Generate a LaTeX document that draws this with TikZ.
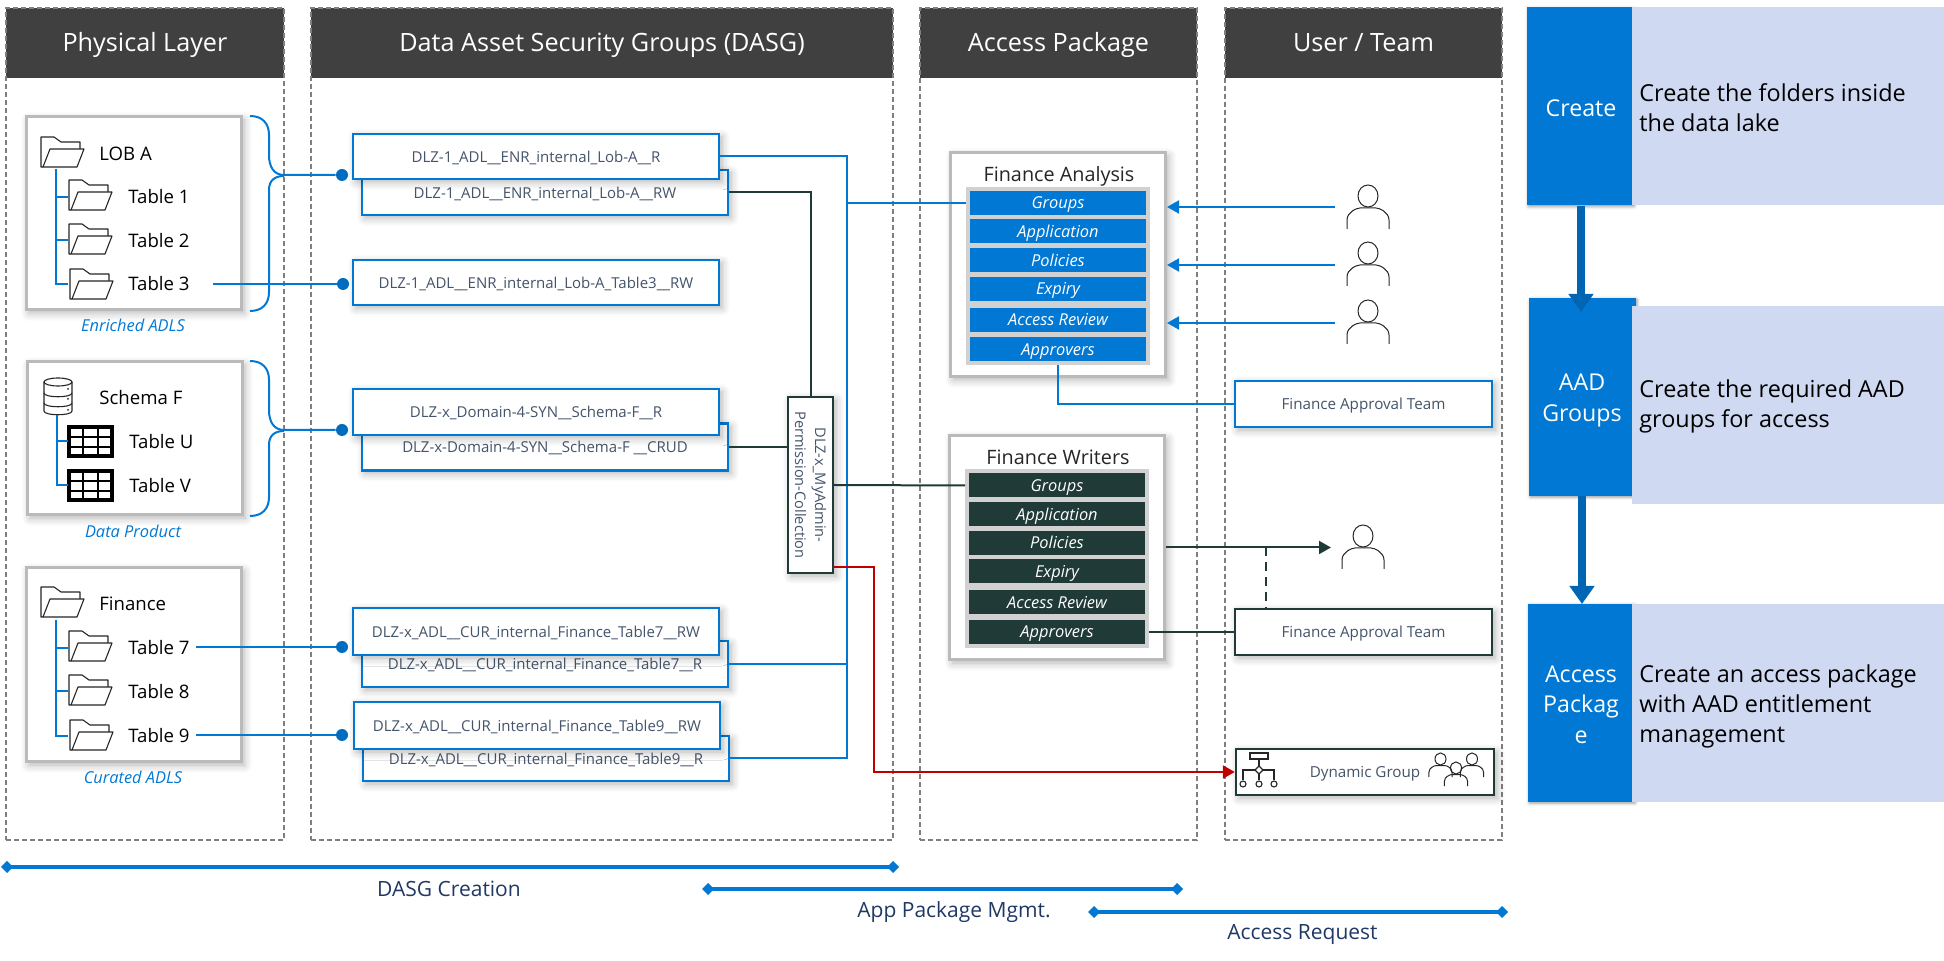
\documentclass[tikz,border=0pt]{standalone}
\usepackage{fontspec}
\setmainfont{Open Sans}
\usetikzlibrary{arrows.meta,shadows.blur}
\definecolor{azure}{HTML}{0078D4}
\definecolor{pine}{HTML}{203A37}
\definecolor{headgray}{HTML}{404040}
\definecolor{frameline}{HTML}{7F7F7F}
\definecolor{inkblue}{HTML}{44546A}
\definecolor{navytext}{HTML}{1F3864}
\definecolor{paleblue}{HTML}{CFD9F1}
\definecolor{redline}{HTML}{C00000}
\newcommand{\fs}[2]{\fontsize{#1pt}{#2pt}\selectfont}
\tikzset{
  softshadow/.style={blur shadow={shadow xshift=1.5pt,shadow yshift=-1.5pt,shadow blur radius=4pt,shadow opacity=30,shadow blur steps=6}},
  panelframe/.style={draw=frameline,dashed,line width=.7pt,dash pattern=on 2.6pt off 1.4pt,minimum height=416pt,minimum width=#1,inner sep=0pt},
  headcap/.style={fill=headgray,text=white,minimum height=35pt,minimum width=#1,inner sep=0pt,text height=9pt,text depth=0pt,font=\fs{12.6}{14}},
  whitecard/.style={fill=white,draw=black!27,line width=1.5pt,softshadow,inner sep=0pt,minimum width=#1},
  treetext/.style={anchor=west,inner sep=0pt,text=black,yshift=-.5pt,font=\fs{9.3}{11}},
  caption/.style={text=azure,inner sep=0pt,font=\fs{8.2}{10}\itshape},
  sgbox/.style={fill=white,draw=azure,line width=1.2pt,softshadow,minimum width=183pt,minimum height=#1,inner sep=0pt,text=inkblue,text height=6.5pt,text depth=.5pt,font=\fs{7.5}{9}},
  teambox/.style={fill=white,draw=#1,line width=1.2pt,softshadow,minimum width=128.5pt,minimum height=23pt,inner sep=0pt,text=inkblue,text height=6.5pt,text depth=.5pt,font=\fs{7.6}{9}},
  rowbox/.style={fill=#1,draw=black!18,line width=2pt,text=white,minimum width=90pt,minimum height=14pt,inner sep=0pt,text height=6pt,text depth=0pt,font=\fs{8.2}{10}\itshape},
  cardtitle/.style={inner sep=0pt,text=black!85,font=\fs{9.9}{12}},
  dotnode/.style={circle,fill=azure!90!black,minimum size=6pt,inner sep=0pt},
  blueln/.style={draw=azure,line width=1pt},
  pineln/.style={draw=pine,line width=1pt},
  spanln/.style={draw=azure,line width=1.6pt,{Diamond[width=6pt,length=6pt]}-{Diamond[width=6pt,length=6pt]}},
  spantext/.style={inner sep=0pt,text=navytext,font=\fs{10.5}{12}},
  stepbox/.style={fill=azure,minimum width=#1,minimum height=99pt,inner sep=0pt,blur shadow={shadow xshift=.6pt,shadow yshift=-.6pt,shadow blur radius=1.5pt,shadow opacity=40,shadow blur steps=3}},
  steplabel/.style={inner sep=0pt,text=white,align=center,font=\fs{11.6}{15.2}},
  stepnote/.style={fill=paleblue,minimum width=156pt,minimum height=99pt,inner sep=0pt},
  steptext/.style={anchor=west,inner sep=0pt,text=black,align=left,font=\fs{11.7}{15}},
  steparrow/.style={draw=azure!85!black,line width=3.6pt,-{Triangle[width=12pt,length=9pt]}},
  folder/.pic={
    \draw[black!85,line width=.55pt,line join=round,fill=white] (2,30) -- (0,30) -- (0,0) -- (13,0) -- (20,5) -- (39,5) -- (39,12);
    \draw[black!85,line width=.55pt,line join=round,fill=white] (2,30) -- (9,12) -- (43,12) -- (36,30) -- cycle;
  },
  gridicon/.pic={
    \draw[black,line width=1pt] (0,10) -- (43,10) (0,20) -- (43,20) (14,0) -- (14,29) (29,0) -- (29,29);
    \draw[black,line width=2pt] (0,0) rectangle (43,29);
  },
  dbicon/.pic={
    \draw[black!85,line width=.55pt] (-14,4) -- (-14,33) .. controls (-14,38) and (14,38) .. (14,33) -- (14,4);
    \draw[black!85,line width=.55pt] (0,4) ellipse (14 and 4);
    \draw[black!85,line width=.55pt] (-14,15) .. controls (-14,20) and (14,20) .. (14,15);
    \draw[black!85,line width=.55pt] (-14,25) .. controls (-14,30) and (14,30) .. (14,25);
    \fill[black!85] (10,11) circle (1) (10,21) circle (1) (10,32) circle (1);
  },
  personicon/.pic={
    \draw[black!85,line width=.5pt] (0,0) ellipse (10 and 11);
    \draw[black!85,line width=.5pt] (-21,33) -- (-21,24) .. controls (-21,16) and (-11,12) .. (-8,12) -- (8,12) .. controls (11,12) and (21,16) .. (21,24) -- (21,33);
  },
}
\begin{document}
\begin{tikzpicture}[x=0.5pt,y=-0.5pt]
\useasboundingbox (0,0) rectangle (1944,961);
\node[headcap=139pt] (physicalHead) at (145,43) {Physical Layer};
\node[headcap=291pt] (dasgHead) at (602,43) {Data Asset Security Groups (DASG)};
\node[headcap=138.5pt] (packageHead) at (1058.5,43) {Access Package};
\node[headcap=138.5pt] (userHead) at (1363.5,43) {User / Team};
\node[panelframe=139pt] (physicalFrame) at (145,424) {};
\node[panelframe=291pt] (dasgFrame) at (602,424) {};
\node[panelframe=138.5pt] (packageFrame) at (1058.5,424) {};
\node[panelframe=138.5pt] (userFrame) at (1363.5,424) {};

\node[whitecard=107.5pt,minimum height=96.5pt] (lobCard) at (133.5,213.5) {};
\node[whitecard=107.5pt,minimum height=76.5pt] (schemaCard) at (134.5,438.5) {};
\node[whitecard=107.5pt,minimum height=97pt] (financeCard) at (133.5,665) {};
\pic at (41,137) {folder};
\pic at (69,180) {folder};
\pic at (69,224) {folder};
\pic at (70,269) {folder};
\node[treetext] (lobText) at (99,153) {LOB A};
\node[treetext] (tableOne) at (128,196) {Table 1};
\node[treetext] (tableTwo) at (128,240) {Table 2};
\node[treetext] (tableThree) at (128,283) {Table 3};
\node[caption] (enrichedText) at (133,325) {Enriched ADLS};
\coordinate (lobRoot) at (56,169);
\coordinate (branchOne) at (68,197);
\coordinate (branchTwo) at (68,240);
\coordinate (branchThree) at (68,284);
\draw[blueln] (lobRoot) |- (branchThree) (lobRoot |- branchOne) -- (branchOne) (lobRoot |- branchTwo) -- (branchTwo);
\pic at (58,378) {dbicon};
\pic at (69,427) {gridicon};
\pic at (69,471) {gridicon};
\node[treetext] (schemaText) at (99,397) {Schema F};
\node[treetext] (tableU) at (129,441) {Table U};
\node[treetext] (tableV) at (129,485) {Table V};
\node[caption] (productText) at (133,531) {Data Product};
\coordinate (schemaRoot) at (57,415);
\coordinate (branchU) at (68,441);
\coordinate (branchV) at (68,485);
\draw[blueln] (schemaRoot) |- (branchV) (schemaRoot |- branchU) -- (branchU);
\pic at (41,587) {folder};
\pic at (69,631) {folder};
\pic at (69,675) {folder};
\pic at (70,720) {folder};
\node[treetext] (financeText) at (99,603) {Finance};
\node[treetext] (tableSeven) at (128,647) {Table 7};
\node[treetext] (tableEight) at (128,691) {Table 8};
\node[treetext] (tableNine) at (128,735) {Table 9};
\node[caption] (curatedText) at (133,777) {Curated ADLS};
\coordinate (financeRoot) at (56,620);
\coordinate (branchSeven) at (68,648);
\coordinate (branchEight) at (68,691);
\coordinate (branchNine) at (68,736);
\draw[blueln] (financeRoot) |- (branchNine) (financeRoot |- branchSeven) -- (branchSeven) (financeRoot |- branchEight) -- (branchEight);

\node[sgbox=22.5pt] (lobRW) at (545,192.5) {DLZ-1\_ADL\_\_ENR\_internal\_Lob-A\_\_RW};
\node[sgbox=22.5pt] (lobR) at (536,156.5) {DLZ-1\_ADL\_\_ENR\_internal\_Lob-A\_\_R};
\node[sgbox=22.5pt] (lobTable) at (536,282.5) {DLZ-1\_ADL\_\_ENR\_internal\_Lob-A\_Table3\_\_RW};
\node[sgbox=23.5pt] (schemaCRUD) at (545,447) {DLZ-x-Domain-4-SYN\_\_Schema-F \_\_CRUD};
\node[sgbox=23pt] (schemaR) at (536,412) {DLZ-x\_Domain-4-SYN\_\_Schema-F\_\_R};
\node[sgbox=23pt] (sevenR) at (545,664) {DLZ-x\_ADL\_\_CUR\_internal\_Finance\_Table7\_\_R};
\node[sgbox=23.5pt] (sevenRW) at (536,631.5) {DLZ-x\_ADL\_\_CUR\_internal\_Finance\_Table7\_\_RW};
\node[sgbox=22.5pt] (nineR) at (546,758.5) {DLZ-x\_ADL\_\_CUR\_internal\_Finance\_Table9\_\_R};
\node[sgbox=23.5pt] (nineRW) at (537,725.5) {DLZ-x\_ADL\_\_CUR\_internal\_Finance\_Table9\_\_RW};

\node[dotnode] (dotLob) at (342,175) {};
\node[dotnode] (dotTable) at (343,284) {};
\node[dotnode] (dotSchema) at (342,430) {};
\node[dotnode] (dotSeven) at (342,647) {};
\node[dotnode] (dotNine) at (342,735) {};
\coordinate (tapThree) at (213,284);
\coordinate (tapSeven) at (196,647);
\coordinate (tapNine) at (196,735);
\draw[blueln] (250,116) .. controls (262,116) and (269,123) .. (269,135) -- (269,155) .. controls (269,167) and (274,175) .. (284,175) -- (dotLob);
\draw[blueln] (250,311) .. controls (262,311) and (269,304) .. (269,292) -- (269,190) .. controls (269,181) and (274,176) .. (284,176);
\draw[blueln] (250,361) .. controls (262,361) and (269,368) .. (269,380) -- (269,410) .. controls (269,422) and (274,430) .. (284,430) -- (dotSchema);
\draw[blueln] (250,516) .. controls (262,516) and (269,509) .. (269,497) -- (269,445) .. controls (269,436) and (274,431) .. (284,431);
\draw[blueln] (tapThree) -- (dotTable);
\draw[blueln] (tapSeven) -- (dotSeven);
\draw[blueln] (tapNine) -- (dotNine);

\node[whitecard=107.5pt,minimum height=112pt] (analysisCard) at (1058,265) {};
\node[cardtitle] (analysisTitle) at (1059,176) {Finance Analysis};
\node[rowbox=azure] (faGroups) at (1058,203) {Groups};
\node[rowbox=azure] (faApplication) at (1058,231.5) {Application};
\node[rowbox=azure] (faPolicies) at (1058,260.5) {Policies};
\node[rowbox=azure] (faExpiry) at (1058,289) {Expiry};
\node[rowbox=azure] (faReview) at (1058,320) {Access Review};
\node[rowbox=azure] (faApprovers) at (1058,349.5) {Approvers};
\node[whitecard=107.5pt,minimum height=112pt] (writersCard) at (1057,548) {};
\node[cardtitle] (writersTitle) at (1058,457) {Finance Writers};
\node[rowbox=pine] (fwGroups) at (1057,485.5) {Groups};
\node[rowbox=pine] (fwApplication) at (1057,514.5) {Application};
\node[rowbox=pine] (fwPolicies) at (1057,543) {Policies};
\node[rowbox=pine] (fwExpiry) at (1057,571.5) {Expiry};
\node[rowbox=pine] (fwReview) at (1057,602.5) {Access Review};
\node[rowbox=pine] (fwApprovers) at (1057,632) {Approvers};

\node[fill=white,draw=pine,line width=1.2pt,softshadow,minimum width=22.5pt,minimum height=88pt,inner sep=0pt] (permBox) at (810.5,485) {};
\node[rotate=-90,inner sep=0pt,align=center,text=inkblue,font=\fs{7.3}{10}] (permText) at (permBox) {DLZ-x\_MyAdmin-\\Permission-Collection};

\coordinate (busTop) at (847,156.5);
\coordinate (busMid) at (847,203);
\coordinate (busLow) at (847,758.5);
\draw[blueln] (lobR.east) -- (busTop) -- (busLow) -- (nineR.east);
\draw[blueln] (sevenR.east) -- (sevenR.east -| busTop);
\draw[blueln] (busMid) -- (faGroups.west);
\coordinate (pineTurn) at (810.5,192.5);
\draw[pineln] (lobRW.east) -- (pineTurn) -- (permBox.north);
\draw[pineln] (schemaCRUD.east) -- (schemaCRUD.east -| permBox.west);
\draw[pineln] (permBox.east) -- (fwGroups.west);
\coordinate (redStart) at (833,567);
\coordinate (redTurn) at (874,567);
\node[teambox=azure] (teamA) at (1363.5,404) {Finance Approval Team};
\node[teambox=pine] (teamB) at (1363.5,632) {Finance Approval Team};
\node[teambox=pine,minimum width=129pt] (dynBox) at (1365,772) {Dynamic Group};
\draw[draw=redline,line width=1pt,-{Triangle[width=6.5pt,length=6pt]}] (redStart) -- (redTurn) -- (redTurn |- dynBox.west) -- (dynBox.west);

\coordinate (userOne) at (1368,196);
\coordinate (userTwo) at (1368,253);
\coordinate (userThree) at (1368,311);
\coordinate (userFour) at (1363,536);
\pic at (userOne) {personicon};
\pic at (userTwo) {personicon};
\pic at (userThree) {personicon};
\pic at (userFour) {personicon};
\coordinate (askOne) at (1335,207);
\coordinate (askTwo) at (1335,265);
\coordinate (askThree) at (1335,323);
\draw[blueln,-{Triangle[width=6.5pt,length=6pt]}] (askOne) -- (askOne -| analysisCard.east);
\draw[blueln,-{Triangle[width=6.5pt,length=6pt]}] (askTwo) -- (askTwo -| analysisCard.east);
\draw[blueln,-{Triangle[width=6.5pt,length=6pt]}] (askThree) -- (askThree -| analysisCard.east);
\draw[blueln] (faApprovers.south) -- (faApprovers.south |- teamA.west) -- (teamA.west);
\draw[pineln] (fwApprovers.east) -- (teamB.west);
\coordinate (pickUser) at (1331,547.5);
\coordinate (dashTop) at (1266,547.5);
\draw[pineln,-{Triangle[width=6.5pt,length=6pt]}] (pickUser -| writersCard.east) -- (pickUser);
\draw[pineln,dashed,dash pattern=on 4.5pt off 3pt] (dashTop) -- (dashTop |- teamB.north);

\draw[black!85,line width=.55pt] (1250,753) rectangle (1268,759);
\draw[black!85,line width=.55pt] (1259,759) -- (1259,766) (1243,780) -- (1243,770) -- (1255,770) (1263,770) -- (1274,770) -- (1274,780) (1259,774) -- (1259,780);
\draw[black!85,line width=.55pt] (1259,766) -- (1263,770) -- (1259,774) -- (1255,770) -- cycle;
\draw[black!85,line width=.55pt] (1243,784) circle (3) (1259,784) circle (3) (1274,784) circle (3);
\pic[scale=.55] at (1440.5,759) {personicon};
\pic[scale=.55] at (1472,759) {personicon};
\pic[scale=.55] at (1456,768) {personicon};

\coordinate (spanA) at (1,867);
\coordinate (spanB) at (899,867);
\coordinate (spanC) at (702,889);
\coordinate (spanD) at (1183,889);
\coordinate (spanE) at (1088,912);
\coordinate (spanF) at (1508,912);
\draw[spanln] (spanA) -- (spanB);
\draw[spanln] (spanC) -- (spanD);
\draw[spanln] (spanE) -- (spanF);
\node[spantext] (dasgSpan) at (449,889) {DASG Creation};
\node[spantext] (appSpan) at (954,912) {App Package Mgmt.};
\node[spantext] (accessSpan) at (1302.5,934) {Access Request};

\node[stepbox=53pt] (createStep) at (1580,106.5) {};
\node[stepbox=53.5pt] (aadStep) at (1582.5,397) {};
\node[stepbox=53pt] (accessStep) at (1581,703) {};
\node[steplabel] (createLabel) at (1581,108) {Create};
\node[steplabel] (aadLabel) at (1582,400.5) {AAD\\Groups};
\node[steplabel] (accessLabel) at (1581,704.5) {Access\\Packag\\e};
\node[stepnote] (createNote) at (1788,106.5) {};
\node[stepnote] (aadNote) at (1788,405) {};
\node[stepnote] (accessNote) at (1788,703.5) {};
\node[steptext] (createText) at (1639,107.5) {Create the folders inside\\the data lake};
\node[steptext] (aadText) at (1639,406) {Create the required AAD\\groups for access};
\node[steptext] (accessText) at (1639,706) {Create an access package\\with AAD entitlement\\management};
\coordinate (aadTip) at (1581,312);
\coordinate (accessTip) at (1582,604);
\draw[steparrow] (createStep.south -| aadTip) -- (aadTip);
\draw[steparrow] (aadStep.south -| accessTip) -- (accessTip);
\end{tikzpicture}
\end{document}
